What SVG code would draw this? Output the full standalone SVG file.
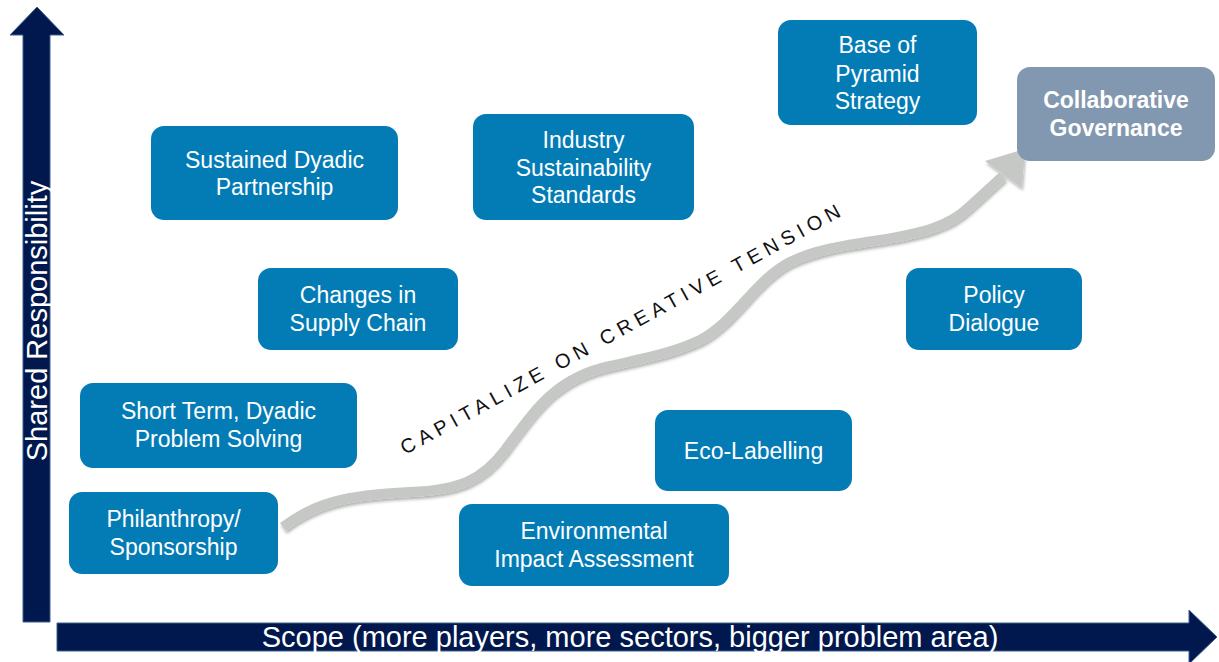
<svg xmlns="http://www.w3.org/2000/svg" width="1219" height="662" viewBox="0 0 1219 662">
  <style>
    .box { fill: #037cb6; }
    .box2 { fill: #8298b0; }
    .lbl { font-family: "Liberation Sans", Arial, sans-serif; font-size: 23px; fill: #ffffff; text-anchor: middle; }
    .bold { font-weight: bold; }
    .axis { fill: #00184d; stroke: #3f5f8f; stroke-width: 1; }
    .axislbl { font-family: "Liberation Sans", Arial, sans-serif; font-size: 29px; fill: #ffffff; text-anchor: middle; }
    .wave { fill: none; stroke: #c5c8c4; stroke-width: 10; stroke-linecap: butt; stroke-linejoin: round; }
    .wavehead { fill: #c5c8c4; }
    .tension { font-family: "Liberation Sans", Arial, sans-serif; font-size: 20px; fill: #111111; }
  </style>
  <defs>
    <filter id="shadow" x="-10%" y="-10%" width="120%" height="130%">
      <feDropShadow dx="1" dy="2.5" stdDeviation="1.5" flood-color="#000000" flood-opacity="0.3"/>
    </filter>
  </defs>
  <rect width="1219" height="662" fill="#ffffff"/>

  <g id="axes">
    <polygon class="axis" points="23,622 23,35 10,35 37,7 64,35 50,35 50,622"/>
    <polygon class="axis" points="57,623 1189,623 1189,610 1217,637 1189,664 1189,651 57,651"/>
    <text class="axislbl" transform="translate(47,321) rotate(-90)">Shared Responsibility</text>
    <text class="axislbl" x="630" y="647">Scope (more players, more sectors, bigger problem area)</text>
  </g>

  <g id="connectors">
    <g filter="url(#shadow)">
      <path class="wave" d="M 283 527 C 315 503, 345 495, 410 492 C 460 490, 482 480, 505 450 C 535 410, 555 378, 610 366 C 650 357, 675 352, 700 340 C 735 322, 755 280, 790 262 C 815 250, 840 246, 880 240 C 925 233, 950 225, 968 208 L 1003 176"/>
      <polygon class="wavehead" points="985,161 1025,149 1022,188"/>
    </g>
    <text class="tension" transform="translate(405,455) rotate(-28.7)" textLength="498" lengthAdjust="spacing">CAPITALIZE ON CREATIVE TENSION</text>
  </g>

  <g id="node-sustained-dyadic">
    <rect class="box" x="151" y="126" width="247" height="94" rx="13"/>
    <text class="lbl" x="274.5" y="167.5">Sustained Dyadic</text>
    <text class="lbl" x="274.5" y="195">Partnership</text>
  </g>
  <g id="node-industry-standards">
    <rect class="box" x="473" y="114" width="221" height="106" rx="13"/>
    <text class="lbl" x="583.5" y="147.5">Industry</text>
    <text class="lbl" x="583.5" y="175.5">Sustainability</text>
    <text class="lbl" x="583.5" y="203">Standards</text>
  </g>
  <g id="node-base-of-pyramid">
    <rect class="box" x="778" y="20" width="199" height="105" rx="13"/>
    <text class="lbl" x="877.5" y="53">Base of</text>
    <text class="lbl" x="877.5" y="81.5">Pyramid</text>
    <text class="lbl" x="877.5" y="108.5">Strategy</text>
  </g>
  <g id="node-collaborative-governance">
    <rect class="box2" x="1017" y="67" width="198" height="94" rx="13"/>
    <text class="lbl bold" x="1116" y="108">Collaborative</text>
    <text class="lbl bold" x="1116" y="135.5">Governance</text>
  </g>
  <g id="node-supply-chain">
    <rect class="box" x="258" y="268" width="200" height="82" rx="13"/>
    <text class="lbl" x="358" y="303">Changes in</text>
    <text class="lbl" x="358" y="331">Supply Chain</text>
  </g>
  <g id="node-policy-dialogue">
    <rect class="box" x="906" y="268" width="176" height="82" rx="13"/>
    <text class="lbl" x="994" y="303">Policy</text>
    <text class="lbl" x="994" y="331">Dialogue</text>
  </g>
  <g id="node-short-term">
    <rect class="box" x="80" y="383" width="277" height="85" rx="13"/>
    <text class="lbl" x="218.5" y="419">Short Term, Dyadic</text>
    <text class="lbl" x="218.5" y="447">Problem Solving</text>
  </g>
  <g id="node-eco-labelling">
    <rect class="box" x="655" y="410" width="197" height="81" rx="13"/>
    <text class="lbl" x="753.5" y="458.5">Eco-Labelling</text>
  </g>
  <g id="node-philanthropy">
    <rect class="box" x="69" y="492" width="209" height="82" rx="13"/>
    <text class="lbl" x="173.5" y="527">Philanthropy/</text>
    <text class="lbl" x="173.5" y="555">Sponsorship</text>
  </g>
  <g id="node-eia">
    <rect class="box" x="459" y="504" width="270" height="82" rx="13"/>
    <text class="lbl" x="594" y="539">Environmental</text>
    <text class="lbl" x="594" y="567">Impact Assessment</text>
  </g>
</svg>
